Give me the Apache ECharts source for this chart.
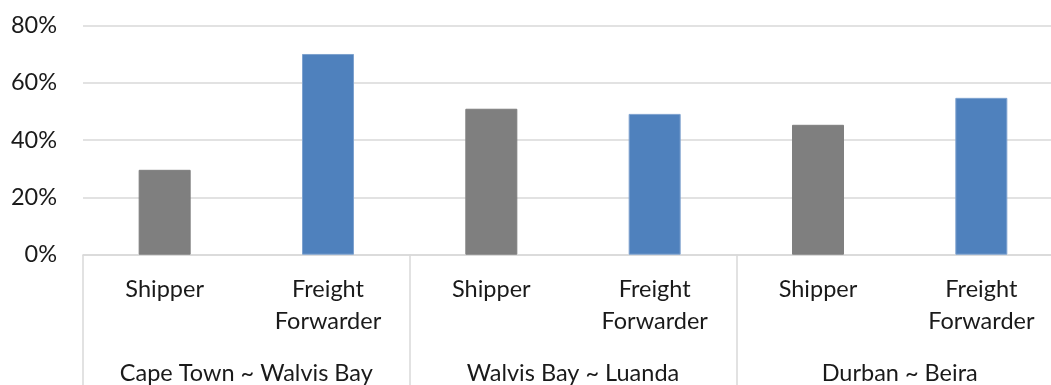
<!DOCTYPE html>
<html>
<head>
<meta charset="utf-8">
<script src="https://cdn.jsdelivr.net/npm/echarts@6/dist/echarts.min.js"></script>
<style>
  html, body { margin: 0; padding: 0; background: #fff; }
  #chart { width: 1051px; height: 385px; }
</style>
</head>
<body>
<div id="chart"></div>
<script>
// Share of respondents by role for each corridor (percent)
const routes = ['Cape Town ~ Walvis Bay', 'Walvis Bay ~ Luanda', 'Durban ~ Beira'];
const roles = ['Shipper', 'Freight\nForwarder'];
const shipperShare = [29.6, 50.9, 45.3];
const forwarderShare = [70.0, 49.1, 54.7];
const yTicks = { min: 0, max: 80, interval: 20 };

const roleColors = ['#7F7F7F', '#4F81BD'];
const roleBorders = ['#7F7F7F', '#7EA2CF'];

// Flatten into one category per (route, role) pair
const categories = [];
const barData = [];
routes.forEach((r, i) => {
  [shipperShare[i], forwarderShare[i]].forEach((v, j) => {
    categories.push(roles[j]);
    barData.push({
      value: v,
      itemStyle: { color: roleColors[j], borderColor: roleBorders[j], borderWidth: 1 }
    });
  });
});

const font = 'Lato';
const textColor = '#1a1a1a';
const lineColor = '#D9D9D9';

const chart = echarts.init(document.getElementById('chart'), null, { renderer: 'canvas' });
chart.setOption({
  animation: false,
  grid: {
    left: 83, top: 25.3, width: 980, bottom: 130.3,
    containLabel: false, outerBoundsMode: 'none'
  },
  xAxis: [
    {
      type: 'category',
      data: categories,
      position: 'bottom',
      axisLine: { show: true, lineStyle: { color: lineColor, width: 1.5 } },
      axisTick: { show: false },
      axisLabel: {
        interval: 0, margin: 19, color: textColor,
        fontFamily: font, fontSize: 23.5, lineHeight: 32, align: 'center'
      }
    },
    {
      type: 'category',
      data: routes,
      position: 'bottom',
      offset: 0,
      axisLine: { show: false },
      axisTick: { show: true, length: 131, interval: 0, lineStyle: { color: lineColor, width: 1.5 } },
      axisLabel: {
        interval: 0, margin: 103, color: textColor,
        fontFamily: font, fontSize: 23.5, lineHeight: 32
      }
    }
  ],
  yAxis: {
    type: 'value',
    min: yTicks.min, max: yTicks.max, interval: yTicks.interval,
    axisLine: { show: false },
    axisTick: { show: false },
    splitLine: { lineStyle: { color: lineColor, width: 1.5 } },
    axisLabel: {
      formatter: '{value}%', margin: 26, color: textColor,
      fontFamily: font, fontSize: 23.5
    }
  },
  series: [{
    type: 'bar',
    xAxisIndex: 0,
    data: barData,
    barWidth: 52
  }]
});
</script>
</body>
</html>
